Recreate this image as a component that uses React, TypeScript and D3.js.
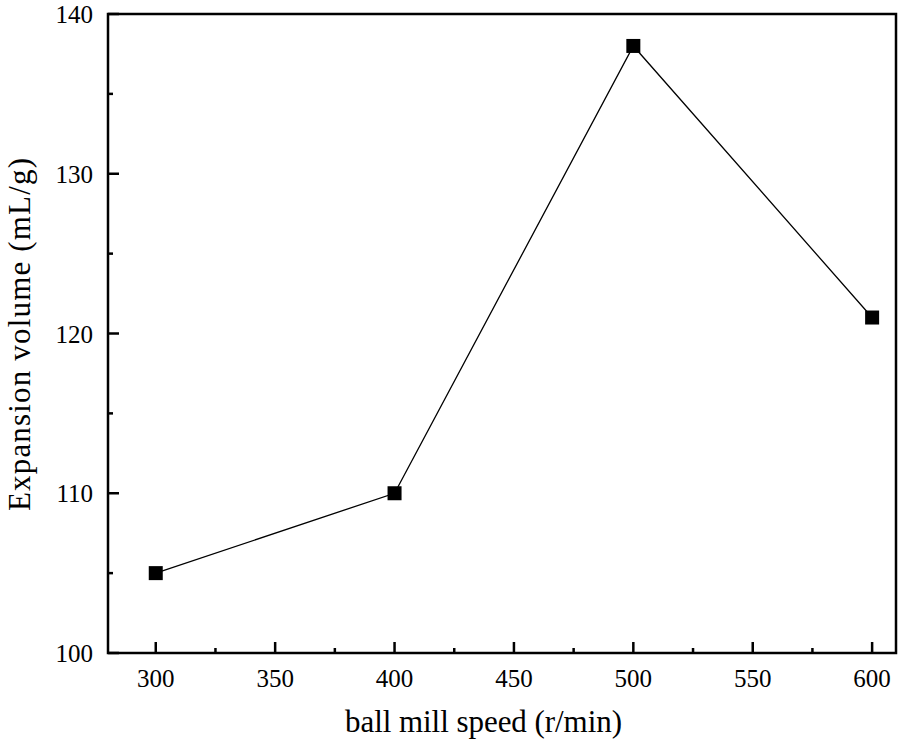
import React from 'react';
import * as d3 from 'd3';

const speeds = [300, 400, 500, 600];
const volumes = [105, 110, 138, 121];
const xTicks = [300, 350, 400, 450, 500, 550, 600];
const yTicks = [100, 110, 120, 130, 140];

const W = 898;
const H = 745;
const m = { left: 108, right: 2, top: 14, bottom: 92 };
const font = '"Liberation Serif", "Times New Roman", serif';

export default function App() {
  const x = d3.scaleLinear().domain([280, 610]).range([m.left, W - m.right]);
  const y = d3.scaleLinear().domain([100, 140]).range([H - m.bottom, m.top]);
  const line = d3.line<number>().x((d, i) => x(speeds[i])).y((d) => y(d));
  const xMinor = d3.range(275, 625, 25).filter((v) => v > 280 && v < 610 && v % 50 !== 0);
  const yMinor = d3.range(105, 140, 10);
  const y0 = y(100);

  return (
    <svg width={W} height={H} style={{ position: 'absolute', left: 0, top: 0 }}>
      <rect x={0} y={0} width={W} height={H} fill="#fff" />
      <path d={line(volumes) || ''} fill="none" stroke="#000" strokeWidth={1.3} />
      {volumes.map((v, i) => (
        <rect key={i} x={x(speeds[i]) - 7} y={y(v) - 7} width={14} height={14} fill="#000" />
      ))}
      <rect
        x={m.left}
        y={m.top}
        width={W - m.right - m.left}
        height={y0 - m.top}
        fill="none"
        stroke="#000"
        strokeWidth={2.5}
      />
      {xTicks.map((t) => (
        <g key={t}>
          <line x1={x(t)} x2={x(t)} y1={y0} y2={y0 - 11} stroke="#000" strokeWidth={2.5} />
          <text x={x(t)} y={y0 + 34} textAnchor="middle" fontFamily={font} fontSize={25}>
            {t}
          </text>
        </g>
      ))}
      {xMinor.map((t) => (
        <line key={t} x1={x(t)} x2={x(t)} y1={y0} y2={y0 - 5} stroke="#000" strokeWidth={2.5} />
      ))}
      {yTicks.map((t) => (
        <g key={t}>
          <line x1={m.left} x2={m.left + 11} y1={y(t)} y2={y(t)} stroke="#000" strokeWidth={2.5} />
          <text x={93} y={y(t) + 9} textAnchor="end" fontFamily={font} fontSize={25}>
            {t}
          </text>
        </g>
      ))}
      {yMinor.map((t) => (
        <line key={t} x1={m.left} x2={m.left + 5} y1={y(t)} y2={y(t)} stroke="#000" strokeWidth={2.5} />
      ))}
      <text
        x={345}
        y={732}
        fontFamily={font}
        fontSize={31}
        textLength={277}
        lengthAdjust="spacing"
      >
        ball mill speed (r/min)
      </text>
      <text
        transform={`translate(30, 511) rotate(-90)`}
        fontFamily={font}
        fontSize={31}
        textLength={353}
        lengthAdjust="spacing"
      >
        Expansion volume (mL/g)
      </text>
    </svg>
  );
}
